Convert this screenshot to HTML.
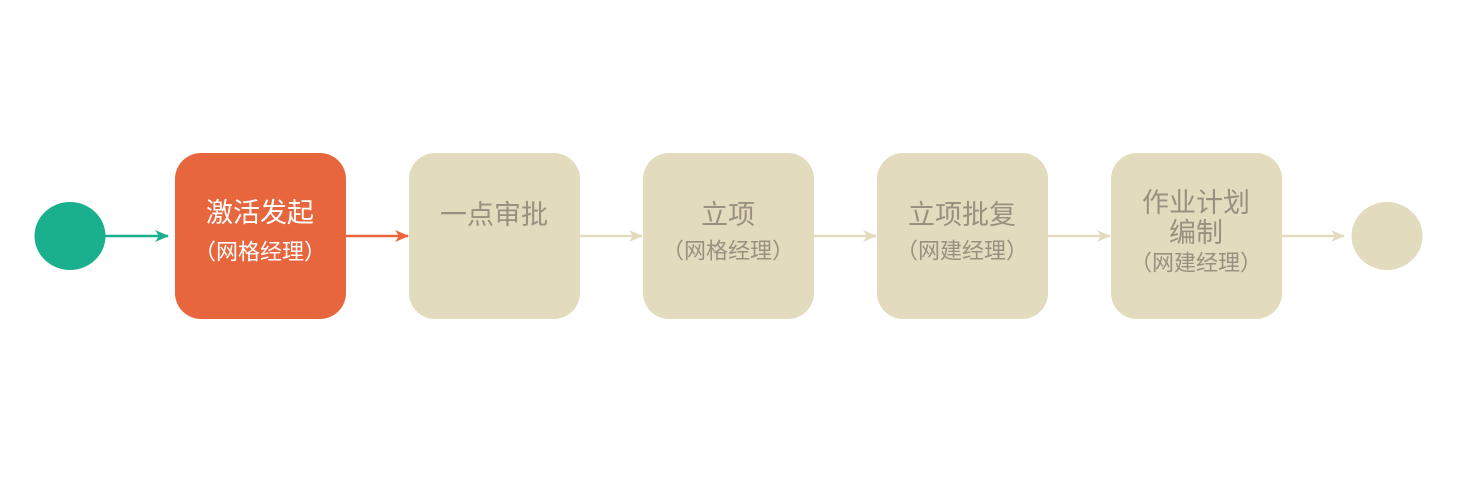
<!DOCTYPE html>
<html><head><meta charset="utf-8"><style>
html,body{margin:0;padding:0;background:#fff;}
svg{display:block;}
text{font-family:"Liberation Sans","Noto Sans CJK SC",sans-serif;text-anchor:middle;dominant-baseline:central;}
</style></head><body>
<svg width="1463" height="486" viewBox="0 0 1463 486">
<defs>
<marker id="ag" viewBox="0 0 14 12" refX="13" refY="6" markerWidth="14" markerHeight="12" markerUnits="userSpaceOnUse" orient="auto"><path d="M0,0 L14,6 L0,12 L4,6 Z" fill="#1bb08d"/></marker>
<marker id="ao" viewBox="0 0 14 12" refX="13" refY="6" markerWidth="14" markerHeight="12" markerUnits="userSpaceOnUse" orient="auto"><path d="M0,0 L14,6 L0,12 L4,6 Z" fill="#e8663d"/></marker>
<marker id="ab" viewBox="0 0 14 12" refX="13" refY="6" markerWidth="14" markerHeight="12" markerUnits="userSpaceOnUse" orient="auto"><path d="M0,0 L14,6 L0,12 L4,6 Z" fill="#e2dbbe"/></marker>
</defs>
<ellipse cx="70" cy="236" rx="35.5" ry="34" fill="#1bb08d"/>
<line x1="105" y1="236" x2="168" y2="236" stroke="#1bb08d" stroke-width="2.5" marker-end="url(#ag)"/>
<rect x="175" y="153" width="171" height="166" rx="26" fill="#e8663d"/>
<line x1="346" y1="236" x2="408" y2="236" stroke="#e8663d" stroke-width="2.5" marker-end="url(#ao)"/>
<rect x="409" y="153" width="171" height="166" rx="26" fill="#e2dbbe"/>
<line x1="580" y1="236" x2="642" y2="236" stroke="#e2dbbe" stroke-width="2.5" marker-end="url(#ab)"/>
<rect x="643" y="153" width="171" height="166" rx="26" fill="#e2dbbe"/>
<line x1="814" y1="236" x2="876" y2="236" stroke="#e2dbbe" stroke-width="2.5" marker-end="url(#ab)"/>
<rect x="877" y="153" width="171" height="166" rx="26" fill="#e2dbbe"/>
<line x1="1048" y1="236" x2="1110" y2="236" stroke="#e2dbbe" stroke-width="2.5" marker-end="url(#ab)"/>
<rect x="1111" y="153" width="171" height="166" rx="26" fill="#e2dbbe"/>
<line x1="1282" y1="236" x2="1344" y2="236" stroke="#e2dbbe" stroke-width="2.5" marker-end="url(#ab)"/>
<ellipse cx="1387" cy="236" rx="35.5" ry="34" fill="#e2dbbe"/>

<g fill="#ffffff">
<text x="260" y="213" font-size="27">激活发起</text>
<text x="260" y="252" font-size="22">（网格经理）</text>
</g>
<g fill="#9a9080">
<text x="494" y="215" font-size="27">一点审批</text>
<text x="728" y="215" font-size="27">立项</text>
<text x="728" y="251" font-size="22">（网格经理）</text>
<text x="962" y="215" font-size="27">立项批复</text>
<text x="962" y="251" font-size="22">（网建经理）</text>
<text x="1196" y="203" font-size="27">作业计划</text>
<text x="1196" y="233" font-size="27">编制</text>
<text x="1196" y="263" font-size="22">（网建经理）</text>
</g>
</svg>
</body></html>
